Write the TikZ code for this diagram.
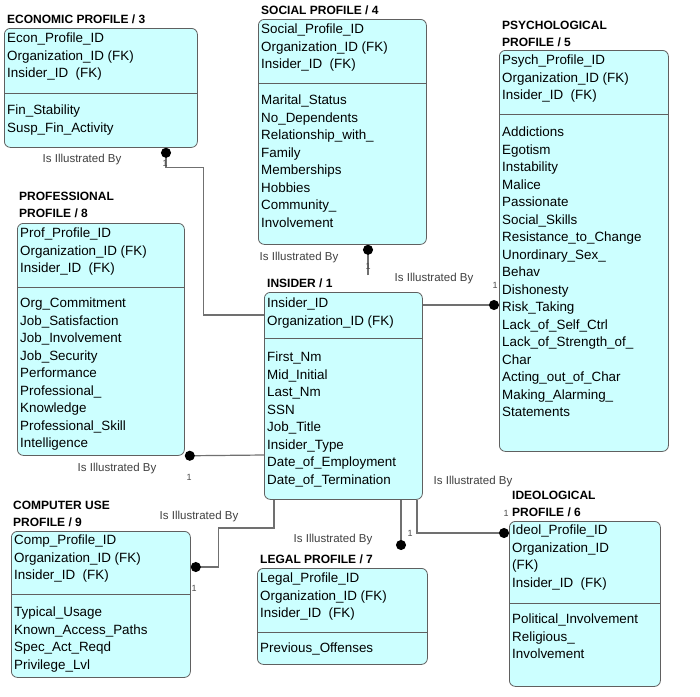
\documentclass[tikz,border=0pt]{standalone}
\usepackage{fontspec}
\setmainfont{Liberation Sans}
\usepackage{xcolor}
\usetikzlibrary{arrows.meta, positioning, calc}
\definecolor{entfill}{RGB}{204,255,255}
\definecolor{entline}{RGB}{96,96,96}
\definecolor{relline}{RGB}{112,112,112}
\tikzset{
    entbox/.style={draw=entline, fill=entfill, rounded corners=6pt, line width=0.8pt, anchor=north west, inner sep=0},
    enttitle/.style={font=\fontsize{12}{17.5}\selectfont\bfseries, align=left, inner sep=0},
    attrlist/.style={font=\fontsize{13.4}{17.5}\selectfont, align=left, inner sep=0},
    sepline/.style={draw=entline, line width=0.8pt},
    link/.style={draw=relline, line width=1.2pt, -{Circle[length=10pt, color=black]}},
    rolename/.style={font=\fontsize{11.5}{13}\selectfont, text=black!75, inner sep=0},
    card/.style={font=\fontsize{9}{10}\selectfont, text=black!70, inner sep=0}
}

\begin{document}
\begin{tikzpicture}[x=1pt, y=-1pt]
    \path[use as bounding box, fill=white] (0,0) rectangle (700,696);

    \node (econ) [entbox, minimum width=193pt, minimum height=119pt] at (4,28) {};
    \node (econtitle) [enttitle, above right=4pt and 3pt of econ.north west] {ECONOMIC PROFILE / 3};
    \node (econkeys) [attrlist, below right=5pt and 3pt of econ.north west] {Econ\_Profile\_ID\\Organization\_ID (FK)\\Insider\_ID~~(FK)};
    \draw[sepline] ($(econ.north west)+(0,65)$) -- ($(econ.north east)+(0,65)$);
    \node (econattr) [attrlist, below right=77pt and 3pt of econ.north west] {Fin\_Stability\\Susp\_Fin\_Activity};

    \node (social) [entbox, minimum width=168pt, minimum height=225pt] at (258,19) {};
    \node (socialtitle) [enttitle, above right=4pt and 3pt of social.north west] {SOCIAL PROFILE / 4};
    \node (socialkeys) [attrlist, below right=5pt and 3pt of social.north west] {Social\_Profile\_ID\\Organization\_ID (FK)\\Insider\_ID~~(FK)};
    \draw[sepline] ($(social.north west)+(0,64)$) -- ($(social.north east)+(0,64)$);
    \node (socialattr) [attrlist, below right=76pt and 3pt of social.north west] {Marital\_Status\\No\_Dependents\\Relationship\_with\_\\Family\\Memberships\\Hobbies\\Community\_\\Involvement};

    \node (psych) [entbox, minimum width=169pt, minimum height=401pt] at (499,50) {};
    \node (psychtitle) [enttitle, above right=3pt and 3pt of psych.north west] {PSYCHOLOGICAL\\PROFILE / 5};
    \node (psychkeys) [attrlist, below right=5pt and 3pt of psych.north west] {Psych\_Profile\_ID\\Organization\_ID (FK)\\Insider\_ID~~(FK)};
    \draw[sepline] ($(psych.north west)+(0,64)$) -- ($(psych.north east)+(0,64)$);
    \node (psychattr) [attrlist, below right=77pt and 3pt of psych.north west] {Addictions\\Egotism\\Instability\\Malice\\Passionate\\Social\_Skills\\Resistance\_to\_Change\\Unordinary\_Sex\_\\Behav\\Dishonesty\\Risk\_Taking\\Lack\_of\_Self\_Ctrl\\Lack\_of\_Strength\_of\_\\Char\\Acting\_out\_of\_Char\\Making\_Alarming\_\\Statements};

    \node (prof) [entbox, minimum width=167pt, minimum height=232pt] at (17,223) {};
    \node (proftitle) [enttitle, above right=5pt and 2pt of prof.north west] {PROFESSIONAL\\PROFILE / 8};
    \node (profkeys) [attrlist, below right=5pt and 3pt of prof.north west] {Prof\_Profile\_ID\\Organization\_ID (FK)\\Insider\_ID~~(FK)};
    \draw[sepline] ($(prof.north west)+(0,64)$) -- ($(prof.north east)+(0,64)$);
    \node (profattr) [attrlist, below right=75pt and 3pt of prof.north west] {Org\_Commitment\\Job\_Satisfaction\\Job\_Involvement\\Job\_Security\\Performance\\Professional\_\\Knowledge\\Professional\_Skill\\Intelligence};

    \node (insider) [entbox, minimum width=158pt, minimum height=207pt] at (264,292) {};
    \node (insidertitle) [enttitle, above right=4pt and 3pt of insider.north west] {INSIDER / 1};
    \node (insiderkeys) [attrlist, below right=6pt and 3pt of insider.north west] {Insider\_ID\\Organization\_ID (FK)};
    \draw[sepline] ($(insider.north west)+(0,46)$) -- ($(insider.north east)+(0,46)$);
    \node (insiderattr) [attrlist, below right=60pt and 3pt of insider.north west] {First\_Nm\\Mid\_Initial\\Last\_Nm\\SSN\\Job\_Title\\Insider\_Type\\Date\_of\_Employment\\Date\_of\_Termination};

    \node (comp) [entbox, minimum width=179pt, minimum height=146pt] at (11,531) {};
    \node (comptitle) [enttitle, above right=4pt and 2pt of comp.north west] {COMPUTER USE\\PROFILE / 9};
    \node (compkeys) [attrlist, below right=4pt and 3pt of comp.north west] {Comp\_Profile\_ID\\Organization\_ID (FK)\\Insider\_ID~~(FK)};
    \draw[sepline] ($(comp.north west)+(0,63)$) -- ($(comp.north east)+(0,63)$);
    \node (compattr) [attrlist, below right=76pt and 3pt of comp.north west] {Typical\_Usage\\Known\_Access\_Paths\\Spec\_Act\_Reqd\\Privilege\_Lvl};

    \node (legal) [entbox, minimum width=170pt, minimum height=96pt] at (257,568) {};
    \node (legaltitle) [enttitle, above right=4pt and 3pt of legal.north west] {LEGAL PROFILE / 7};
    \node (legalkeys) [attrlist, below right=5pt and 3pt of legal.north west] {Legal\_Profile\_ID\\Organization\_ID (FK)\\Insider\_ID~~(FK)};
    \draw[sepline] ($(legal.north west)+(0,64)$) -- ($(legal.north east)+(0,64)$);
    \node (legalattr) [attrlist, below right=75pt and 3pt of legal.north west] {Previous\_Offenses};

    \node (ideo) [entbox, minimum width=151pt, minimum height=165pt] at (509,521) {};
    \node (ideotitle) [enttitle, above right=4pt and 3pt of ideo.north west] {IDEOLOGICAL\\PROFILE / 6};
    \node (ideokeys) [attrlist, below right=4pt and 3pt of ideo.north west] {Ideol\_Profile\_ID\\Organization\_ID\\(FK)\\Insider\_ID~~(FK)};
    \draw[sepline] ($(ideo.north west)+(0,82)$) -- ($(ideo.north east)+(0,82)$);
    \node (ideoattr) [attrlist, below right=93pt and 3pt of ideo.north west] {Political\_Involvement\\Religious\_\\Involvement};

    \draw[link] ($(insider.north west)+(0,23)$) -| ($(econ.south east)+(6,20)$) -| ($(econ.south west)+(162,0)$);
    \draw[link] ($(insider.north west)+(104,-17)$) -- ($(social.south west)+(110,0)$);
    \draw[link] ($(insider.north east)+(0,13)$) -- ($(psych.north west)+(0,255)$);
    \draw[link] ($(insider.north west)+(0,163)$) -- (prof.south east);
    \draw[link] ($(insider.south west)+(10,0)$) |- ($(comp.north east)+(28,-3)$) |- ($(comp.north east)+(0,36)$);
    \draw[link] ($(insider.south west)+(137,0)$) -- ($(legal.north west)+(144,-18)$);
    \draw[link] ($(insider.south west)+(153,0)$) |- ($(ideo.north west)+(0,12)$);

    \node (econrole) [rolename] at (82,160) {Is Illustrated By};
    \node (socialrole) [rolename] at (299,258) {Is Illustrated By};
    \node (psychrole) [rolename] at (434,279) {Is Illustrated By};
    \node (profrole) [rolename] at (117,469) {Is Illustrated By};
    \node (comprole) [rolename] at (199,517) {Is Illustrated By};
    \node (legalrole) [rolename] at (333,540) {Is Illustrated By};
    \node (ideorole) [rolename] at (473,482) {Is Illustrated By};

    \node (econcard) [card] at (165,163) {1};
    \node (socialcard) [card] at (368,266) {1};
    \node (psychcard) [card] at (495,285) {1};
    \node (profcard) [card] at (189,477) {1};
    \node (compcard) [card] at (194,588) {1};
    \node (legalcard) [card] at (410,533) {1};
    \node (ideocard) [card] at (506,513) {1};
\end{tikzpicture}
\end{document}
